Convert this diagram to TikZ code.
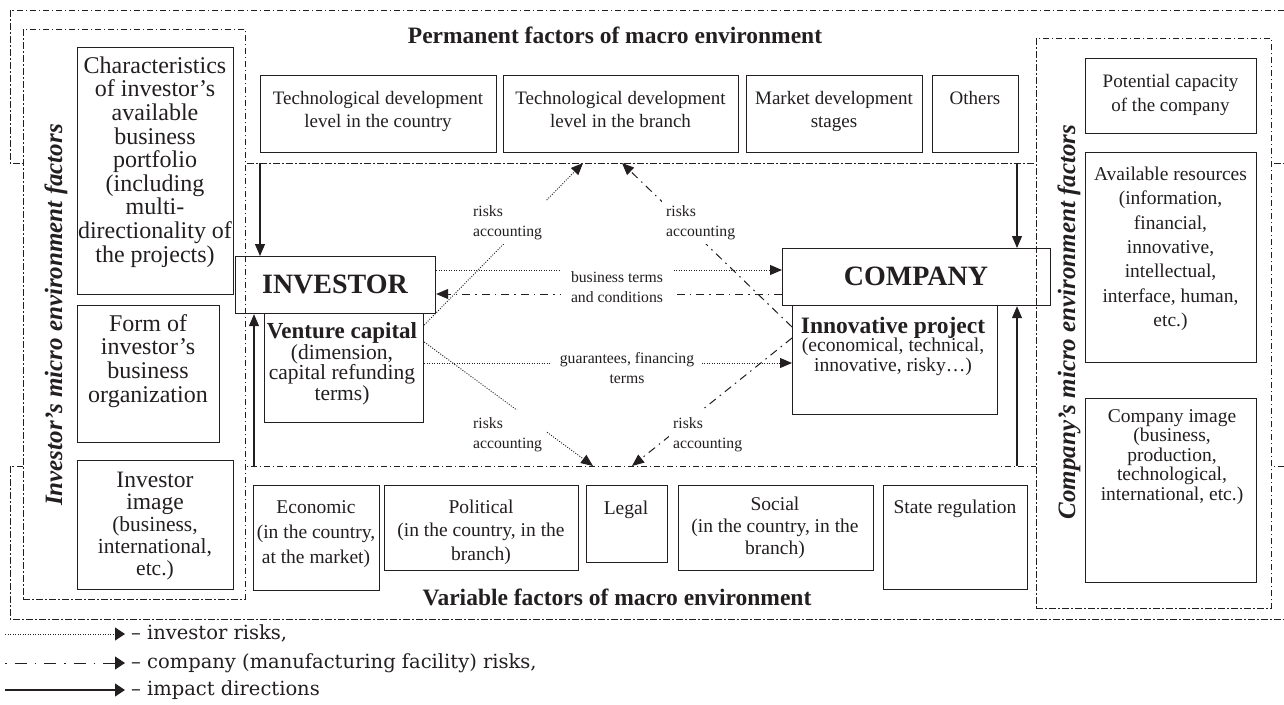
\documentclass[tikz,border=0pt]{standalone}
\usepackage{fontspec}
\setmainfont{Liberation Serif}
\newfontfamily\legendfont{DejaVu Serif}
\usetikzlibrary{arrows.meta}
\definecolor{ink}{HTML}{231F20}
\setlength{\lineskiplimit}{-100pt}
% text block whose first baseline sits at (x, baseline)
\newcommand\boxtext[5]{\node[txt, font=#4] (#1) at (#2,#3-30) {\rule{0pt}{30pt}#5};}
% "risks accounting" label, left edge and first baseline given
\newcommand\riskslabel[3]{\node[lbl, anchor=north west, align=left] (#1) at (#2-4,#3-18) {\rule{0pt}{14pt}risks\\accounting};}

\tikzset{
  region/.style={draw=ink, line width=0.9pt, dash pattern=on 6.5pt off 2.5pt on 1.5pt off 2.5pt},
  regionbox/.style={region, fill=white, anchor=north west, inner sep=0pt, rectangle},
  factorbox/.style={draw=ink, line width=1.2pt, anchor=north west, inner sep=0pt, rectangle},
  txt/.style={anchor=north, inner sep=0pt, align=center, text=ink},
  impact/.style={draw=ink, line width=1.1pt, -{Triangle[length=12pt,width=10pt]}},
  irisk/.style={draw=ink, line width=0.9pt, dash pattern=on 1pt off 1.5pt, -{Triangle[length=12pt,width=10pt]}},
  crisk/.style={draw=ink, line width=1pt, dash pattern=on 8pt off 5pt on 1.5pt off 5pt, -{Triangle[length=12pt,width=10pt]}},
  lbl/.style={fill=white, inner sep=4pt, text=ink, font=\fontsize{15.7}{20}\selectfont},
  legendtxt/.style={anchor=base west, inner sep=0pt, text=ink, font=\legendfont\fontsize{19.5}{22}\selectfont},
  legendtip/.style={-{Triangle[length=10pt,width=13pt]}},
}

\begin{document}
\begin{tikzpicture}[x=1pt, y=-1pt]
\useasboundingbox (0,0) rectangle (1284,704);
\fill[white] (0,0) rectangle (1284,704);

% macro environment bands (run off the right edge)
\begin{scope}
  \clip (0,0) rectangle (1284,704);
  \draw[region] (10,10) rectangle (1300,163);
  \draw[region] (10,466) rectangle (1300,619);
\end{scope}

% micro environment panels
\node[regionbox, minimum width=222pt, minimum height=570pt] (invmicro) at (23,29) {};
\node[regionbox, minimum width=235pt, minimum height=570pt] (comicro) at (1036,38) {};

% titles
\node[anchor=base, inner sep=0pt, text=ink, font=\fontsize{23.5}{28}\selectfont\bfseries] (ptitle) at (615,43) {Permanent factors of macro environment};
\node[anchor=base, inner sep=0pt, text=ink, font=\fontsize{23.5}{28}\selectfont\bfseries] (vtitle) at (617,605) {Variable factors of macro environment};
\node[rotate=90, anchor=base, inner sep=0pt, text=ink, font=\fontsize{25}{30}\selectfont\bfseries\itshape] (imtitle) at (62,315) {Investor’s micro environment factors};
\node[rotate=90, anchor=base, inner sep=0pt, text=ink, font=\fontsize{25}{30}\selectfont\bfseries\itshape] (cmtitle) at (1075,322) {Company’s micro environment factors};

% investor's micro environment
\node[factorbox, minimum width=156pt, minimum height=247pt] (chr) at (77,47) {};
\boxtext{chr-t}{155}{73}{\fontsize{24}{23.6}\selectfont}{Characteristics\\of investor’s\\available\\business\\portfolio\\(including\\multi-\\directionality of\\the projects)}
\node[factorbox, minimum width=142pt, minimum height=137pt] (form) at (77,305) {};
\boxtext{form-t}{148}{331}{\fontsize{24}{23.6}\selectfont}{Form of\\investor’s\\business\\organization}
\node[factorbox, minimum width=156pt, minimum height=129pt] (img) at (77,460) {};
\boxtext{img-t}{155}{487}{\fontsize{21.5}{22}\selectfont}{{\fontsize{23.5}{22}\selectfont Investor}\\{\fontsize{23.5}{22}\selectfont image}\\(business,\\international,\\etc.)}

% permanent factors
\node[factorbox, minimum width=236pt, minimum height=77pt] (tc) at (260,75) {};
\boxtext{tc-t}{378}{104}{\fontsize{19}{23}\selectfont}{Technological development\\level in the country}
\node[factorbox, minimum width=235pt, minimum height=77pt] (tb) at (503,75) {};
\boxtext{tb-t}{620.5}{104}{\fontsize{19}{23}\selectfont}{Technological development\\level in the branch}
\node[factorbox, minimum width=176pt, minimum height=77pt] (md) at (746,75) {};
\boxtext{md-t}{834}{104}{\fontsize{19}{23}\selectfont}{Market development\\stages}
\node[factorbox, minimum width=86pt, minimum height=77pt] (oth) at (932,75) {};
\boxtext{oth-t}{975}{104}{\fontsize{19}{23}\selectfont}{Others}

% company's micro environment
\node[factorbox, minimum width=171pt, minimum height=75pt] (pot) at (1085,58) {};
\boxtext{pot-t}{1170.5}{87}{\fontsize{19}{24.5}\selectfont}{Potential capacity\\of the company}
\node[factorbox, minimum width=171pt, minimum height=210pt] (res) at (1085,152) {};
\boxtext{res-t}{1170.5}{180}{\fontsize{19.5}{24.4}\selectfont}{Available resources\\(information,\\financial,\\innovative,\\intellectual,\\interface, human,\\etc.)}
\node[factorbox, minimum width=171pt, minimum height=184pt] (cimg) at (1085,398) {};
\boxtext{cimg-t}{1172}{422}{\fontsize{19.5}{19.5}\selectfont}{Company image\\(business,\\production,\\technological,\\international, etc.)}

% variable factors
\node[factorbox, minimum width=126pt, minimum height=105pt] (eco) at (253,485) {};
\boxtext{eco-t}{316}{513}{\fontsize{19.5}{25}\selectfont}{Economic\\(in the country,\\at the market)}
\node[factorbox, minimum width=194pt, minimum height=85pt] (pol) at (384,485) {};
\boxtext{pol-t}{481}{513}{\fontsize{19.5}{23.5}\selectfont}{Political\\(in the country, in the\\branch)}
\node[factorbox, minimum width=81pt, minimum height=77pt] (leg) at (586,485) {};
\boxtext{leg-t}{626}{514}{\fontsize{19.5}{23}\selectfont}{Legal}
\node[factorbox, minimum width=195pt, minimum height=85pt] (soc) at (678,485) {};
\boxtext{soc-t}{775}{510}{\fontsize{19.5}{22}\selectfont}{Social\\(in the country, in the\\branch)}
\node[factorbox, minimum width=144pt, minimum height=104pt] (st) at (883,485) {};
\boxtext{st-t}{955}{513}{\fontsize{19.5}{23}\selectfont}{State regulation}

% investor and company
\node[factorbox, minimum width=200pt, minimum height=57pt] (inv) at (235,256) {};
\boxtext{inv-t}{335}{293}{\fontsize{28}{30}\selectfont\bfseries}{INVESTOR}
\node[factorbox, minimum width=159pt, minimum height=109pt] (vc) at (264,313) {};
\boxtext{vc-h}{342}{338}{\fontsize{23}{24}\selectfont\bfseries}{Venture capital}
\boxtext{vc-d}{342}{359}{\fontsize{21.5}{20.5}\selectfont}{(dimension,\\capital refunding\\terms)}
\node[factorbox, minimum width=268pt, minimum height=57pt] (co) at (782,248) {};
\boxtext{co-t}{916}{285}{\fontsize{28}{30}\selectfont\bfseries}{COMPANY}
\node[factorbox, minimum width=205pt, minimum height=109pt] (ip) at (792,305) {};
\boxtext{ip-h}{893}{333}{\fontsize{23.5}{24}\selectfont\bfseries}{Innovative project}
\boxtext{ip-d}{893}{351}{\fontsize{19.6}{20}\selectfont}{(economical, technical,\\innovative, risky…)}

% impact directions
\coordinate (pin) at (260,163);
\coordinate (vin) at (254,466);
\coordinate (pco) at (1017,163);
\coordinate (vco) at (1017,466);
\draw[impact] (pin) -- (pin |- inv.north);
\draw[impact] (vin) -- (vin |- inv.south);
\draw[impact] (pco) -- (pco |- co.north);
\draw[impact] (vco) -- (vco |- co.south);

% risk targets on the macro bands
\coordinate (pt1) at (583,163);
\coordinate (pt2) at (622,163);
\coordinate (vt1) at (593,466);
\coordinate (vt2) at (632,466);

% investor / company exchanges
\draw[irisk] (inv.east |- 0,270) -- (co.west |- 0,270);
\draw[crisk] (co.west |- 0,294) -- (inv.east |- 0,294);
\draw[irisk] (vc.east |- 0,363) -- (ip.west |- 0,363);

% risks accounting
\draw[irisk] (vc.east |- 0,325) -- (pt1);
\draw[crisk] (ip.west |- 0,327) -- (pt2);
\draw[irisk] (vc.east |- 0,342) -- (vt1);
\draw[crisk] (ip.west |- 0,338) -- (vt2);

% connector labels
\node[lbl, anchor=north, align=center, inner xsep=10pt] (lbiz) at (617,282-18) {\rule{0pt}{14pt}business terms\\and conditions};
\node[lbl, anchor=north, align=center, inner xsep=8pt] (lgua) at (627,363-18) {\rule{0pt}{14pt}guarantees, financing\\terms};
\riskslabel{lr1}{473}{216}
\riskslabel{lr2}{666}{216}
\riskslabel{lr3}{473}{428}
\riskslabel{lr4}{673}{428}

% legend
\coordinate (lgA1) at (5,634);  \coordinate (lgA2) at (125,634);
\coordinate (lgB1) at (5,663);  \coordinate (lgB2) at (125,663);
\coordinate (lgC1) at (5,690);  \coordinate (lgC2) at (125,690);
\draw[irisk, legendtip] (lgA1) -- (lgA2);
\draw[crisk, dash pattern=on 1.5pt off 8pt on 12pt off 8pt, legendtip] (lgB1) -- (lgB2);
\draw[impact, legendtip] (lgC1) -- (lgC2);
\node[legendtxt] (lgT1) at (131,639) {– investor risks,};
\node[legendtxt] (lgT2) at (131,668) {– company (manufacturing facility) risks,};
\node[legendtxt] (lgT3) at (131,695) {– impact directions};
\end{tikzpicture}
\end{document}
